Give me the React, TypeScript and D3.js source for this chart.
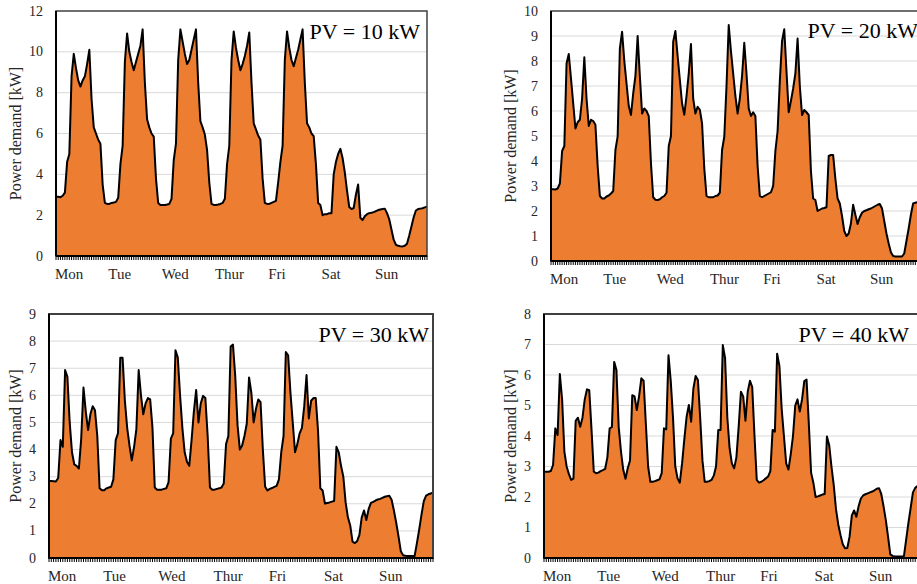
import React from 'react';
import * as d3 from 'd3';

const days = ['Mon', 'Tue', 'Wed', 'Thur', 'Fri', 'Sat', 'Sun'];
const pvLabels = ['PV = 10 kW', 'PV = 20 kW', 'PV = 30 kW', 'PV = 40 kW'];
const yMaxes = [12, 10, 9, 8];
const yTickSteps = [2, 1, 1, 1];
const yTitle = 'Power demand [kW]';

// hourly power demand, Mon 00:00 .. Sun 23:00 (168 values)
const pv10 = [
  2.9, 2.9, 2.88, 2.95, 3.1, 4.6, 5.0, 8.8, 9.9, 9.2, 8.6, 8.3, 8.6, 8.8, 9.4, 10.1, 7.7, 6.3, 6.0, 5.7, 5.5, 3.5, 2.6, 2.55,
  2.55, 2.6, 2.62, 2.65, 2.85, 4.5, 5.4, 9.5, 10.9, 10.0, 9.5, 9.1, 9.5, 9.9, 10.3, 11.1, 8.5, 6.7, 6.3, 6.0, 5.85, 3.8, 2.6, 2.5,
  2.5, 2.5, 2.52, 2.55, 2.8, 4.7, 5.5, 9.6, 11.1, 10.5, 9.9, 9.4, 9.6, 10.1, 10.6, 11.1, 8.5, 6.6, 6.3, 5.95, 5.2, 3.6, 2.55, 2.5,
  2.5, 2.52, 2.55, 2.6, 2.8, 4.5, 5.4, 9.6, 11.0, 10.2, 9.6, 9.1, 9.4, 9.8, 10.3, 10.95, 8.5, 6.5, 6.2, 5.9, 5.7, 3.8, 2.6, 2.55,
  2.55, 2.6, 2.65, 2.7, 3.6, 4.6, 5.4, 9.6, 11.0, 10.2, 9.6, 9.3, 9.7, 10.1, 10.6, 11.1, 8.5, 6.5, 6.3, 6.0, 5.87, 4.5, 2.6, 2.5,
  2.0, 2.05, 2.05, 2.1, 2.1, 4.0, 4.6, 5.0, 5.25, 4.8, 4.1, 3.2, 2.4, 2.3, 2.35, 3.0, 3.5, 1.87, 1.76, 1.95, 2.05, 2.1, 2.12, 2.15,
  2.2, 2.25, 2.28, 2.3, 2.32, 2.1, 1.8, 1.3, 0.8, 0.55, 0.5, 0.48, 0.47, 0.5, 0.6, 1.0, 1.45, 1.9, 2.23, 2.3, 2.32, 2.34, 2.38, 2.42,
];
const pv20 = [
  2.87, 2.87, 2.86, 2.9, 3.1, 4.4, 4.6, 7.9, 8.28, 7.3, 6.3, 5.3, 5.55, 5.65, 6.5, 8.15, 6.5, 5.4, 5.65, 5.6, 5.45, 3.8, 2.6, 2.5,
  2.5, 2.58, 2.62, 2.7, 2.8, 4.44, 4.98, 8.5, 9.17, 8.0, 7.1, 6.2, 5.84, 6.7, 7.4, 9.0, 7.4, 5.9, 6.1, 6.0, 5.8, 3.9, 2.55, 2.45,
  2.44, 2.47, 2.55, 2.6, 2.73, 4.6, 5.0, 8.77, 9.2, 8.2, 7.24, 6.3, 5.85, 6.6, 7.5, 8.68, 6.5, 5.9, 6.17, 6.05, 5.5, 3.7, 2.6, 2.55,
  2.55, 2.55, 2.6, 2.62, 2.73, 4.44, 4.97, 7.0, 9.44, 8.4, 7.5, 6.6, 5.9, 6.5, 7.4, 8.73, 7.5, 6.1, 5.8, 5.95, 5.8, 3.8, 2.6, 2.55,
  2.6, 2.65, 2.7, 2.75, 3.0, 4.4, 5.2, 7.2, 8.8, 9.27, 7.6, 5.95, 6.4, 6.9, 7.5, 8.9, 7.0, 5.84, 6.04, 5.95, 5.84, 3.6, 2.5, 2.44,
  2.0, 2.05, 2.1, 2.12, 2.15, 4.2, 4.24, 4.24, 3.3, 2.5, 2.3, 1.8, 1.2, 1.0, 1.1, 1.5, 2.25, 1.85, 1.48, 1.75, 1.93, 2.0, 2.03, 2.07,
  2.1, 2.15, 2.2, 2.25, 2.28, 2.1, 1.6, 1.1, 0.7, 0.35, 0.2, 0.18, 0.18, 0.18, 0.18, 0.3, 0.8, 1.3, 1.85, 2.3, 2.33, 2.36, 2.38, 2.4,
];
const pv30 = [
  2.84, 2.84, 2.83, 2.82, 2.95, 4.35, 4.1, 6.93, 6.68, 5.0, 3.9, 3.45, 3.4, 3.3, 4.4, 6.29, 5.4, 4.72, 5.3, 5.6, 5.45, 4.5, 2.57, 2.5,
  2.5, 2.57, 2.6, 2.63, 2.9, 4.35, 4.6, 7.39, 7.39, 5.8, 4.8, 4.15, 3.6, 4.1, 4.75, 6.93, 6.0, 5.3, 5.7, 5.9, 5.85, 4.8, 2.6, 2.52,
  2.52, 2.52, 2.55, 2.57, 2.8, 4.4, 4.6, 7.66, 7.4, 6.0, 4.8, 3.9, 3.55, 3.4, 4.35, 5.4, 6.2, 5.0, 5.7, 5.98, 5.9, 4.5, 2.6, 2.52,
  2.52, 2.55, 2.57, 2.6, 2.75, 4.2, 4.5, 7.8, 7.87, 6.7, 4.9, 4.0, 4.15, 4.5, 4.95, 6.66, 6.1, 5.0, 5.5, 5.85, 5.75, 4.0, 2.63, 2.49,
  2.55, 2.58, 2.62, 2.66, 2.9, 3.9, 4.5, 7.6, 7.48, 6.1, 5.0, 3.9, 4.2, 4.6, 4.8, 5.6, 6.75, 5.15, 5.8, 5.9, 5.9, 4.7, 2.57, 2.49,
  2.01, 2.03, 2.05, 2.08, 2.1, 4.1, 3.9, 3.4, 3.0, 2.05, 1.5, 1.2, 0.6, 0.55, 0.62, 0.85, 1.5, 1.75, 1.4, 1.8, 2.03, 2.07, 2.12, 2.16,
  2.18, 2.22, 2.26, 2.28, 2.3, 2.15, 1.75, 1.3, 0.8, 0.25, 0.1, 0.08, 0.07, 0.07, 0.07, 0.07, 0.55, 1.05, 1.6, 2.1, 2.3, 2.35, 2.38, 2.41,
];
const pv40 = [
  2.83, 2.83, 2.83, 2.85, 3.05, 4.25, 4.03, 6.03, 5.2, 3.49, 3.0, 2.75, 2.56, 2.6, 4.5, 4.6, 4.3, 4.6, 5.2, 5.53, 5.5, 4.2, 2.83, 2.78,
  2.8, 2.85, 2.88, 2.92, 3.3, 4.25, 4.29, 6.43, 6.16, 4.3, 3.5, 2.9, 2.6, 2.94, 3.2, 5.34, 5.3, 4.85, 5.3, 5.89, 5.81, 4.4, 3.0, 2.5,
  2.5, 2.52, 2.55, 2.58, 2.78, 4.25, 4.22, 6.65, 5.8, 4.6, 3.0, 2.61, 2.47, 3.1, 3.9, 4.63, 5.02, 4.47, 5.56, 5.97, 5.84, 4.6, 3.2, 2.5,
  2.5, 2.52, 2.56, 2.7, 3.0, 4.2, 4.2, 6.98, 6.55, 4.6, 3.6, 3.1, 2.94, 3.3, 4.3, 5.45, 5.3, 4.5, 5.45, 5.81, 5.6, 4.0, 2.56, 2.47,
  2.5, 2.55, 2.61, 2.67, 2.85, 4.2, 4.14, 6.7, 6.3, 4.9, 4.0, 3.1, 2.9, 3.4, 4.0, 5.0, 5.2, 4.8, 5.2, 5.8, 5.85, 4.4, 2.8, 2.47,
  2.0, 2.02, 2.05, 2.08, 2.1, 3.98, 3.7, 3.0, 2.4, 1.6, 1.1, 0.75, 0.45, 0.32, 0.33, 0.7, 1.4, 1.56, 1.35, 1.7, 1.95, 2.05, 2.09, 2.12,
  2.15, 2.18, 2.22, 2.27, 2.29, 2.1, 1.7, 1.25, 0.7, 0.12, 0.07, 0.05, 0.05, 0.05, 0.05, 0.05, 0.6, 1.15, 1.65, 2.15, 2.3, 2.36, 2.4, 2.42,
];
const series = [pv10, pv20, pv30, pv40];

const layouts = [
  { left: 56, top: 11, width: 371, height: 245, labelX: 420, labelY: 39, yLabelX: 15, borderW: 1.5 },
  { left: 551, top: 11, width: 371, height: 250, labelX: 918, labelY: 37.5, yLabelX: 510, borderW: 1.5 },
  { left: 49, top: 314, width: 384, height: 244, labelX: 429, labelY: 341.5, yLabelX: 15, borderW: 2 },
  { left: 544, top: 314, width: 378, height: 244, labelX: 909, labelY: 341.5, yLabelX: 510, borderW: 2 },
];

const FONT = "'Liberation Serif', 'Times New Roman', serif";
const FILL = '#ED7D31';
const TEXT = '#262626';

type Layout = typeof layouts[number];

function Panel({ data, yMax, step, label, layout }: { data: number[]; yMax: number; step: number; label: string; layout: Layout }) {
  const { left, top, width, height, labelX, labelY, yLabelX, borderW } = layout;
  const bottom = top + height;
  const x = d3.scaleLinear().domain([0, data.length - 1]).range([left, left + width]);
  const y = d3.scaleLinear().domain([0, yMax]).range([bottom, top]);
  const area = d3.area<number>().x((_, i) => x(i)).y0(y(0)).y1((d) => y(d));
  const line = d3.line<number>().x((_, i) => x(i)).y((d) => y(d));
  const yTicks = d3.range(0, yMax + step / 2, step);
  const xTicks = d3.range(0, data.length);
  return (
    <g>
      {yTicks.filter((t) => t > 0 && t < yMax).map((t) => (
        <line key={'g' + t} x1={left} x2={left + width} y1={y(t)} y2={y(t)} stroke="#d9d9d9" strokeWidth={1} />
      ))}
      <path d={area(data) || ''} fill={FILL} />
      <path d={line(data) || ''} fill="none" stroke="#000" strokeWidth={2} strokeLinejoin="round" />
      <rect x={left} y={top} width={width} height={height} fill="none" stroke="#404040" strokeWidth={borderW} />
      <line x1={left} x2={left} y1={top} y2={bottom} stroke="#000" strokeWidth={2} />
      <line x1={left} x2={left + width} y1={bottom} y2={bottom} stroke="#000" strokeWidth={2} />
      {xTicks.map((i) => (
        <line key={'t' + i} x1={x(i)} x2={x(i)} y1={bottom} y2={bottom + 4} stroke="#000" strokeWidth={1} />
      ))}
      {yTicks.map((t) => (
        <text key={'y' + t} x={left - 13} y={y(t)} textAnchor="end" dominantBaseline="central"
          fontFamily={FONT} fontSize={14} fill={TEXT}>{t}</text>
      ))}
      {days.map((dname, i) => (
        <text key={dname} x={x(i * 24) - 1} y={bottom + 22.5} textAnchor="start"
          fontFamily={FONT} fontSize={15} fill={TEXT}>{dname}</text>
      ))}
      <text x={labelX} y={labelY} textAnchor="end" fontFamily={FONT} fontSize={22} fill="#000">{label}</text>
      <text transform={`translate(${yLabelX},${(top + bottom) / 2}) rotate(-90)`} textAnchor="middle"
        dominantBaseline="central" fontFamily={FONT} fontSize={16} fill={TEXT}>{yTitle}</text>
    </g>
  );
}

export default function App() {
  return (
    <svg width={917} height={584} style={{ position: 'absolute', left: 0, top: 0, background: '#fff' }}>
      <rect x={0} y={0} width={917} height={584} fill="#fff" />
      {series.map((data, i) => (
        <Panel key={i} data={data} yMax={yMaxes[i]} step={yTickSteps[i]} label={pvLabels[i]} layout={layouts[i]} />
      ))}
    </svg>
  );
}
